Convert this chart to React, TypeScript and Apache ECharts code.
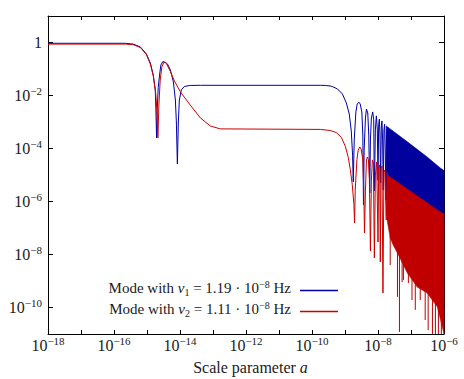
import React, { useEffect, useRef } from 'react';
import * as echarts from 'echarts';

// ---- axis ticks (log10 exponents) ----
const xTickExps = [-18, -17, -16, -15, -14, -13, -12, -11, -10, -9, -8, -7, -6];
const xLabelExps = [-18, -16, -14, -12, -10, -8, -6];
const yLabelExps = [-10, -8, -6, -4, -2, 0];

// ---- series names ----
const seriesNames = ['Mode with ν₁ = 1.19 · 10⁻⁸ Hz', 'Mode with ν₂ = 1.11 · 10⁻⁸ Hz'];
const legendRich = [
  '{t|Mode with }{i|ν}{sub|1}{t| = 1.19 · 10}{sup|−8}{t| Hz}',
  '{t|Mode with }{i|ν}{sub|2}{t| = 1.11 · 10}{sup|−8}{t| Hz}',
];

// ---- mode 1 (blue): log10(a), log10(power) ----
const blueLgA = [-18, -15.66, -15.42, -15.20, -15.02, -14.90, -14.81, -14.75, -14.73, -14.71, -14.69, -14.66, -14.62, -14.58, -14.52, -14.45, -14.38, -14.29, -14.20, -14.14, -14.11, -14.08, -14.05, -14.02, -13.96, -13.87, -13.69, -13.38, -9.75, -9.60, -9.45, -9.39, -9.23, -9.08, -8.96, -8.87, -8.81, -8.77, -8.75, -8.72, -8.67, -8.63, -8.58, -8.54, -8.49, -8.46, -8.44, -8.42, -8.38, -8.35, -8.31, -8.28, -8.25, -8.23, -8.20, -8.16, -8.13, -8.11, -8.08, -8.05, -8.02, -8.00, -7.98, -7.96, -7.94, -7.92, -7.90, -7.88, -7.86, -7.84, -7.82, -7.80, -7.78, -7.76, -7.74, -7.72];
const blueLgP = [-0.03, -0.03, -0.06, -0.17, -0.43, -0.77, -1.23, -1.79, -2.55, -3.60, -2.5, -1.7, -1.23, -0.85, -0.72, -0.75, -0.81, -1.04, -1.49, -2.17, -3.0, -4.58, -3.0, -2.17, -1.79, -1.66, -1.62, -1.615, -1.615, -1.62, -1.64, -1.66, -1.75, -1.94, -2.28, -2.70, -3.34, -4.25, -5.26, -3.68, -2.62, -2.32, -2.25, -2.32, -2.62, -3.49, -6.13, -4.06, -2.85, -2.51, -2.66, -3.49, -5.68, -3.68, -2.85, -2.62, -2.92, -5.6, -3.30, -2.77, -3.30, -5.2, -3.11, -2.89, -3.49, -5.3, -3.19, -2.96, -3.68, -5.57, -3.30, -3.08, -4.06, -5.94, -3.49, -3.19];

// dense oscillation band of mode 1
const blueBandLgA = [-7.75, -7.63, -7.12, -6.52, -6.11, -6.0];
const blueBandTopLgP = [-3.15, -3.26, -3.74, -4.31, -4.74, -4.83];
const blueBandBotLgP = [-5.6, -5.8, -6.2, -6.6, -7.0, -7.1];

// ---- mode 2 (red) ----
const redLgA = [-18, -15.66, -15.42, -15.20, -15.02, -14.90, -14.81, -14.74, -14.70, -14.67, -14.64, -14.60, -14.55, -14.49, -14.42, -14.29, -14.17, -13.99, -13.69, -13.38, -13.08, -12.78, -9.75, -9.45, -9.26, -9.11, -8.99, -8.90, -8.84, -8.78, -8.73, -8.71, -8.69, -8.64, -8.60, -8.55, -8.51, -8.46, -8.43, -8.41, -8.38, -8.35, -8.32, -8.29, -8.26, -8.23, -8.20, -8.17, -8.14, -8.11, -8.08, -8.04, -8.00, -7.98, -7.95, -7.93, -7.91, -7.88, -7.85, -7.82, -7.79, -7.75, -7.72];
const redLgP = [-0.06, -0.06, -0.08, -0.19, -0.45, -0.81, -1.26, -1.87, -2.55, -3.60, -2.36, -1.42, -0.92, -0.74, -0.77, -1.10, -1.45, -1.86, -2.36, -2.85, -3.15, -3.26, -3.28, -3.32, -3.40, -3.58, -3.92, -4.34, -4.79, -5.36, -6.11, -6.81, -5.57, -4.43, -4.06, -3.94, -4.02, -4.43, -5.57, -7.19, -5.57, -4.43, -4.32, -4.43, -5.19, -7.87, -5.19, -4.43, -4.55, -8.13, -5.0, -4.51, -7.53, -4.74, -4.62, -8.28, -4.74, -4.66, -9.45, -4.89, -4.81, -6.70, -4.89];

const redBandLgA = [-7.75, -7.63, -7.54, -7.38, -7.11, -6.81, -6.51, -6.20, -6.0];
const redBandTopLgP = [-4.96, -5.08, -5.15, -5.29, -5.53, -5.79, -6.05, -6.32, -6.47];
const redBandBotLgP = [-6.51, -7.38, -7.64, -8.02, -8.70, -9.23, -9.45, -9.98, -11.0];

const redSpikeLgA = [-7.63, -7.41, -7.35, -7.27, -7.23, -7.08, -6.97, -6.87, -6.72, -6.57, -6.48, -6.35, -6.26, -6.17, -6.08];
const redSpikeTopLgP = [-7.3, -7.8, -7.9, -8.1, -8.2, -8.7, -8.9, -9.1, -9.2, -9.3, -9.4, -9.6, -9.7, -9.8, -9.9];
const redSpikeBotLgP = [-8.40, -9.60, -10.92, -9.04, -8.96, -9.08, -9.72, -10.09, -9.72, -10.47, -10.85, -11, -11, -11, -11];

// ---- styles ----
const FONT = '"Liberation Serif", "DejaVu Serif", serif';
const TXT = '#1a1a1a';
const BLUE = '#0000a8';
const RED = '#cc0000';
const BLUE_BAND = '#00009c';
const RED_BAND = '#c00000';

const p10 = (v: number) => Math.pow(10, v);

const labelRich: any = {
  b: { fontSize: 16, lineHeight: 16, fontFamily: FONT, color: TXT, verticalAlign: 'bottom' },
  s: { fontSize: 11, lineHeight: 11, fontFamily: FONT, color: TXT, verticalAlign: 'bottom', padding: [0, 0, 7, 0] },
};

function expLabel(v: number) {
  const e = Math.round(Math.log10(v));
  if (e === 0) return '{b|1}';
  return '{b|10}{s|−' + Math.abs(e) + '}';
}

function bandSeries(lgA: number[], top: number[], bot: number[], color: string) {
  return {
    type: 'custom',
    coordinateSystem: 'cartesian2d',
    xAxisIndex: 0,
    yAxisIndex: 0,
    silent: true,
    data: [[p10(lgA[0]), p10(top[0])]],
    encode: { x: 0, y: 1 },
    renderItem: (_p: any, api: any) => {
      const upper = lgA.map((a, i) => api.coord([p10(a), p10(top[i])]));
      const lower = lgA.map((a, i) => api.coord([p10(a), p10(bot[i])])).reverse();
      return {
        type: 'polygon',
        shape: { points: upper.concat(lower) },
        style: { fill: color, stroke: color, lineWidth: 0.6 },
      };
    },
  };
}

function spikeSeries(lgA: number[], top: number[], bot: number[], color: string) {
  return {
    type: 'custom',
    coordinateSystem: 'cartesian2d',
    xAxisIndex: 0,
    yAxisIndex: 0,
    silent: true,
    data: lgA.map((a, i) => [p10(a), p10(top[i]), p10(bot[i])]),
    encode: { x: 0, y: [1, 2] },
    renderItem: (_p: any, api: any) => {
      const x = api.value(0);
      const s = api.coord([x, api.value(1)]);
      const e = api.coord([x, api.value(2)]);
      return {
        type: 'line',
        shape: { x1: s[0], y1: s[1], x2: e[0], y2: e[1] },
        style: { stroke: color, lineWidth: 1 },
      };
    },
  };
}

function axisBase(isX: boolean, showLabel: boolean, position: string) {
  const tickVals = isX ? xTickExps.map(p10) : yLabelExps.map(p10);
  const labelVals = isX ? xLabelExps.map(p10) : yLabelExps.map(p10);
  return {
    type: 'log',
    logBase: 10,
    min: isX ? 1e-18 : 1e-11,
    max: isX ? 1e-6 : 10,
    position,
    axisLine: { show: true, onZero: false, lineStyle: { color: '#000', width: 1 } },
    axisTick: { show: true, inside: true, length: isX ? 4 : 5, customValues: tickVals, lineStyle: { color: '#000', width: 1 } },
    axisLabel: {
      show: showLabel,
      customValues: labelVals,
      formatter: expLabel,
      rich: labelRich,
      margin: isX ? 3 : 6,
    },
    minorTick: { show: false },
    splitLine: { show: false },
  };
}

const LF = 15;
const option: any = {
  animation: false,
  backgroundColor: '#fff',
  grid: { left: 48, right: 20, top: 16, bottom: 45, containLabel: false, outerBoundsMode: 'none' },
  legend: {
    data: seriesNames,
    orient: 'vertical',
    right: 126,
    top: 279.5,
    padding: 0,
    align: 'right',
    icon: 'rect',
    itemWidth: 38,
    itemHeight: 1.3,
    itemGap: 3,
    selectedMode: false,
    formatter: (name: string) => legendRich[seriesNames.indexOf(name)],
    textStyle: {
      fontFamily: FONT,
      color: TXT,
      padding: [0, 4, 0, 0],
      rich: {
        t: { fontSize: LF, lineHeight: 14, fontFamily: FONT, color: TXT, verticalAlign: 'bottom', padding: [0, 0, 2, 0] },
        i: { fontSize: LF, lineHeight: 14, fontFamily: FONT, fontStyle: 'italic', color: TXT, verticalAlign: 'bottom', padding: [0, 0, 2, 0] },
        sub: { fontSize: 10, lineHeight: 14, fontFamily: FONT, color: TXT, verticalAlign: 'bottom' },
        sup: { fontSize: 10, lineHeight: 14, fontFamily: FONT, color: TXT, verticalAlign: 'bottom', padding: [0, 0, 8, 0] },
      },
    },
  },
  xAxis: [
    {
      ...axisBase(true, true, 'bottom'),
      name: 'Scale parameter {i|a}',
      nameLocation: 'middle',
      nameGap: 25,
      nameTextStyle: {
        fontFamily: FONT,
        fontSize: 16,
        color: TXT,
        padding: [0, 0, 0, 9],
        rich: {
          i: { fontFamily: FONT, fontSize: 16, fontStyle: 'italic', color: TXT },
        },
      },
    },
    axisBase(true, false, 'top'),
  ],
  yAxis: [axisBase(false, true, 'left'), axisBase(false, false, 'right')],
  series: [
    {
      name: seriesNames[0],
      type: 'line',
      xAxisIndex: 0,
      yAxisIndex: 0,
      showSymbol: false,
      symbol: 'none',
      clip: true,
      color: BLUE,
      lineStyle: { color: BLUE, width: 1 },
      data: blueLgA.map((a, i) => [p10(a), p10(blueLgP[i])]),
    },
    bandSeries(blueBandLgA, blueBandTopLgP, blueBandBotLgP, BLUE_BAND),
    {
      name: seriesNames[1],
      type: 'line',
      xAxisIndex: 0,
      yAxisIndex: 0,
      showSymbol: false,
      symbol: 'none',
      clip: true,
      color: RED,
      lineStyle: { color: RED, width: 1 },
      data: redLgA.map((a, i) => [p10(a), p10(redLgP[i])]),
    },
    bandSeries(redBandLgA, redBandTopLgP, redBandBotLgP, RED_BAND),
    spikeSeries(redSpikeLgA, redSpikeTopLgP, redSpikeBotLgP, RED_BAND),
  ],
};

export default function App() {
  const ref = useRef<HTMLDivElement>(null);
  useEffect(() => {
    const chart = echarts.init(ref.current as HTMLDivElement, null, { renderer: 'svg' });
    chart.setOption(option);
    return () => chart.dispose();
  }, []);
  return <div ref={ref} style={{ position: 'fixed', left: 0, top: 0, width: 464, height: 379 }} />;
}
